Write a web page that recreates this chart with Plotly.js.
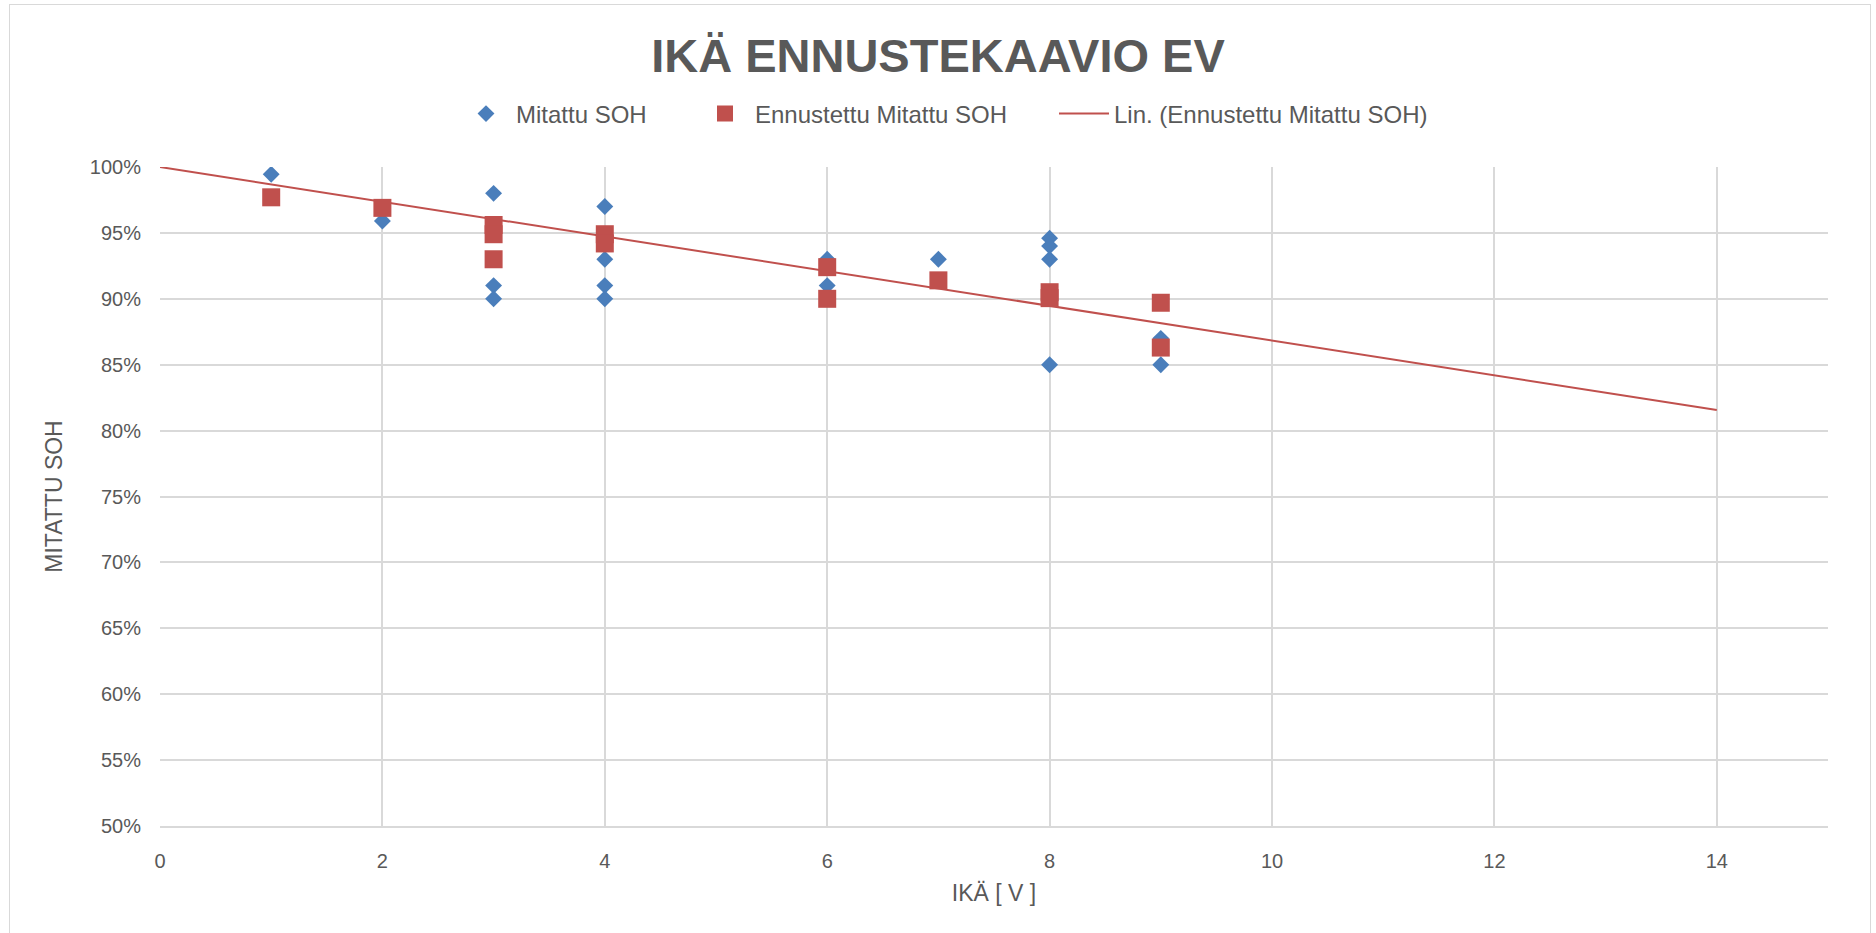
<!DOCTYPE html>
<html>
<head>
<meta charset="utf-8">
<script src="https://cdn.plot.ly/plotly-3.0.1.min.js"></script>
<style>
html,body{margin:0;padding:0;background:#fff;overflow:hidden;}
#chart{width:1876px;height:933px;}
#frame{position:absolute;left:9px;top:4px;width:1860px;height:940px;border:1.5px solid #d9d9d9;pointer-events:none;}
</style>
</head>
<body>
<div id="chart"></div>
<div id="frame"></div>
<script>
// Mitattu SOH (measured)
const measuredAge = [1, 2, 3, 3, 3, 4, 4, 4, 4, 6, 6, 7, 8, 8, 8, 8, 9, 9];
const measuredSOH = [0.9945, 0.959, 0.980, 0.910, 0.900, 0.970, 0.930, 0.910, 0.900, 0.930, 0.910, 0.930, 0.946, 0.940, 0.930, 0.850, 0.870, 0.850];

// Ennustettu Mitattu SOH (predicted)
const predictedAge = [1, 2, 3, 3, 3, 4, 4, 6, 6, 7, 8, 8, 9, 9];
const predictedSOH = [0.977, 0.969, 0.956, 0.949, 0.930, 0.949, 0.942, 0.924, 0.900, 0.914, 0.905, 0.9005, 0.897, 0.863];

// Lin. (Ennustettu Mitattu SOH) - trendline endpoints
const trendAge = [0, 14];
const trendSOH = [1.0, 0.8156];

const xTicks = [0, 2, 4, 6, 8, 10, 12, 14];

const names = ['Mitattu SOH', 'Ennustettu Mitattu SOH', 'Lin. (Ennustettu Mitattu SOH)'];

const txt = '#595959';
const grid = '#d9d9d9';
const fontFam = '"Liberation Sans", Arial, sans-serif';

const traces = [
  {
    x: trendAge, y: trendSOH, type: 'scatter', mode: 'lines', name: names[2],
    line: {color: '#C0504D', width: 2}, legend: 'legend3', hoverinfo: 'skip'
  },
  {
    x: measuredAge, y: measuredSOH, type: 'scatter', mode: 'markers', name: names[0],
    marker: {symbol: 'diamond', size: 13, color: '#4A7EBB'}, legend: 'legend'
  },
  {
    x: predictedAge, y: predictedSOH, type: 'scatter', mode: 'markers', name: names[1],
    marker: {symbol: 'square', size: 18, color: '#C0504D'}, legend: 'legend2'
  }
];

const legendBase = {
  orientation: 'h', yanchor: 'middle', y: 1.0804, xanchor: 'left',
  itemwidth: 50, font: {family: fontFam, size: 24, color: txt},
  bgcolor: 'rgba(0,0,0,0)', borderwidth: 0, itemclick: false
};

const layout = {
  width: 1876, height: 933,
  paper_bgcolor: '#fff', plot_bgcolor: '#fff',
  margin: {l: 160, r: 48, t: 167, b: 107},
  font: {family: fontFam, color: txt},
  title: {
    text: '<b>IKÄ ENNUSTEKAAVIO EV</b>',
    font: {family: fontFam, size: 47, color: txt},
    x: 0.5, xanchor: 'center', xref: 'container', y: 1 - 56/933, yanchor: 'middle'
  },
  showlegend: true,
  legend: Object.assign({}, legendBase, {x: (456 - 160) / 1668}),
  legend2: Object.assign({}, legendBase, {x: (695 - 160) / 1668}),
  legend3: Object.assign({}, legendBase, {x: (1054 - 160) / 1668}),
  xaxis: {
    range: [0, 15], tickmode: 'array', tickvals: xTicks, ticktext: xTicks.map(String),
    showgrid: true, gridcolor: grid, gridwidth: 2,
    zeroline: false, showline: true, linecolor: grid, linewidth: 2,
    ticks: '', ticklabelstandoff: 16,
    tickfont: {family: fontFam, size: 20, color: txt},
    title: {text: 'IKÄ [ V ]', font: {family: fontFam, size: 23, color: txt}, standoff: 14},
    automargin: false
  },
  yaxis: {
    range: [0.5, 1.0], dtick: 0.05, tick0: 0.5, tickformat: '.0%',
    showgrid: true, gridcolor: grid, gridwidth: 2,
    zeroline: false, showline: false,
    ticks: '', ticklabelstandoff: 18,
    tickfont: {family: fontFam, size: 20, color: txt},
    title: {text: 'MITATTU SOH', font: {family: fontFam, size: 23, color: txt}, standoff: 20},
    automargin: false
  }
};

Plotly.newPlot('chart', traces, layout, {displayModeBar: false, staticPlot: true});
</script>
</body>
</html>
